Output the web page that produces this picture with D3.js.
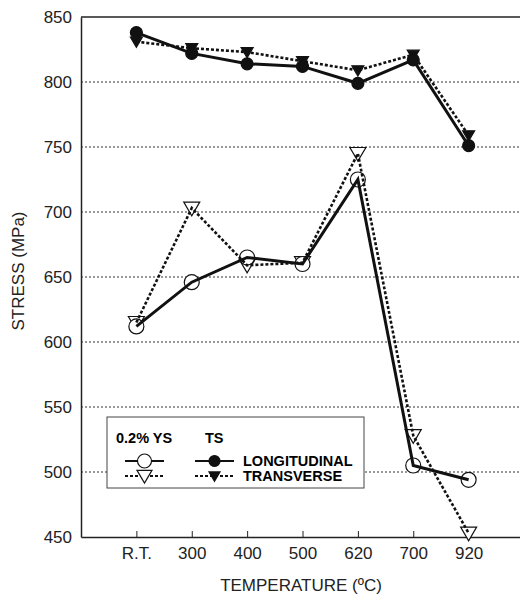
<!DOCTYPE html>
<html>
<head>
<meta charset="utf-8">
<script src="https://cdn.jsdelivr.net/npm/d3@7"></script>
<style>
  body { margin: 0; background: #fff; }
  svg { display: block; font-family: "Liberation Sans", Arial, sans-serif; }
</style>
</head>
<body>
<div id="chart"></div>
<script>
const width = 520, height = 599;
const margin = { top: 17, right: -4, bottom: 62, left: 81 };

// data
const temps = ["R.T.", "300", "400", "500", "620", "700", "920"];
const tsLong = [838, 822, 814, 812, 799, 817, 751];
const tsTrans = [831, 826, 823, 816, 809, 821, 759];
const ysLong = [612, 646, 665, 660, 725, 505, 494];
const ysTrans = [615, 703, 659, 661, 745, 528, 453];
const yTicks = [450, 500, 550, 600, 650, 700, 750, 800, 850];

const svg = d3.select("#chart").append("svg")
    .attr("width", width)
    .attr("height", height);

const x = d3.scaleLinear()
    .domain([-1, temps.length])
    .range([margin.left, width - margin.right]);
const y = d3.scaleLinear()
    .domain([450, 850])
    .range([height - margin.bottom, margin.top]);

// gridlines
svg.append("g")
    .selectAll("line")
    .data(yTicks.filter((d) => d > 450 && d < 850))
    .join("line")
    .attr("x1", margin.left)
    .attr("x2", width)
    .attr("y1", (d) => y(d))
    .attr("y2", (d) => y(d))
    .attr("stroke", "#333")
    .attr("stroke-width", 1)
    .attr("stroke-dasharray", "2,2");

// top frame line
svg.append("line")
    .attr("x1", margin.left).attr("x2", width)
    .attr("y1", y(850)).attr("y2", y(850))
    .attr("stroke", "#222").attr("stroke-width", 1.5);

const xAxis = svg.append("g")
    .attr("transform", `translate(0, ${y(450)})`)
    .call(d3.axisBottom(x)
        .tickValues(d3.range(temps.length))
        .tickFormat((i) => temps[i])
        .tickSizeInner(-6)
        .tickSizeOuter(0)
        .tickPadding(10));
xAxis.select(".domain").attr("stroke", "#222").attr("stroke-width", 1.5);
xAxis.selectAll(".tick line").attr("stroke", "#222");
xAxis.selectAll("text").style("font-size", "17px").attr("fill", "#222");

const yAxis = svg.append("g")
    .attr("transform", `translate(${margin.left}, 0)`)
    .call(d3.axisLeft(y).tickValues(yTicks).tickSize(0).tickPadding(9));
yAxis.select(".domain").attr("stroke", "#222").attr("stroke-width", 1.5);
yAxis.selectAll("text").style("font-size", "17px").attr("fill", "#222");

svg.append("text")
    .attr("x", 301)
    .attr("y", 591)
    .attr("text-anchor", "middle")
    .style("font-size", "17px")
    .attr("fill", "#222")
    .text("TEMPERATURE (ºC)");

svg.append("text")
    .attr("transform", "translate(24, 271) rotate(-90)")
    .attr("text-anchor", "middle")
    .style("font-size", "17px")
    .attr("fill", "#222")
    .text("STRESS (MPa)");

const line = d3.line()
    .x((d, i) => x(i))
    .y((d) => y(d));

const series = [
    { values: tsTrans, dash: "3,2", marker: "triDown", fill: "#111" },
    { values: tsLong, dash: null, marker: "circle", fill: "#111" },
    { values: ysTrans, dash: "3,2", marker: "triDown", fill: "#fff" },
    { values: ysLong, dash: null, marker: "circle", fill: "#fff" }
];

function drawMarker(g, type, fill, cx, cy, big, small) {
    if (type === "circle") {
        g.append("circle")
            .attr("cx", cx).attr("cy", cy)
            .attr("r", fill === "#fff" ? big : small)
            .attr("fill", fill)
            .attr("stroke", "#111")
            .attr("stroke-width", 1.2);
    } else {
        const s = fill === "#fff" ? big : small;
        g.append("path")
            .attr("d", `M${cx - s},${cy - s * 0.75}L${cx + s},${cy - s * 0.75}L${cx},${cy + s * 0.95}Z`)
            .attr("fill", fill)
            .attr("stroke", "#111")
            .attr("stroke-width", 1.2);
    }
}

const markers = svg.append("g");
series.forEach((s) => {
    s.values.forEach((v, i) =>
        drawMarker(markers, s.marker, s.fill, x(i), y(v),
            s.marker === "circle" ? 7.5 : 8, 6));
});

series.forEach((s) => {
    svg.append("path")
        .datum(s.values)
        .attr("fill", "none")
        .attr("stroke", "#111")
        .attr("stroke-width", s.dash ? 2.6 : 3)
        .attr("stroke-dasharray", s.dash)
        .attr("d", line);
});

// legend
const lg = svg.append("g").attr("transform", "translate(107, 417)");
lg.append("rect")
    .attr("width", 257).attr("height", 71)
    .attr("fill", "#fff")
    .attr("stroke", "#444")
    .attr("stroke-width", 1);
lg.append("text").attr("x", 9).attr("y", 26)
    .style("font-size", "14.5px").style("font-weight", "bold")
    .text("0.2% YS");
lg.append("text").attr("x", 98).attr("y", 26)
    .style("font-size", "14.5px").style("font-weight", "bold")
    .text("TS");

const legendRows = [
    { dash: null, marker: "circle", label: "LONGITUDINAL", dy: 44 },
    { dash: "3,2", marker: "triDown", label: "TRANSVERSE", dy: 59 }
];
legendRows.forEach((r) => {
    [{ x0: 18, fill: "#fff" }, { x0: 88, fill: "#111" }].forEach((c) => {
        lg.append("line")
            .attr("x1", c.x0).attr("x2", c.x0 + 39)
            .attr("y1", r.dy).attr("y2", r.dy)
            .attr("stroke", "#111")
            .attr("stroke-width", r.dash ? 2 : 2.2)
            .attr("stroke-dasharray", r.dash);
        drawMarker(lg, r.marker, c.fill, c.x0 + 19.5, r.dy,
            r.marker === "circle" ? 7 : 7.5, 5.5);
    });
    lg.append("text").attr("x", 136).attr("y", r.dy + 5)
        .style("font-size", "14.5px").style("font-weight", "bold")
        .text(r.label);
});
</script>
</body>
</html>
